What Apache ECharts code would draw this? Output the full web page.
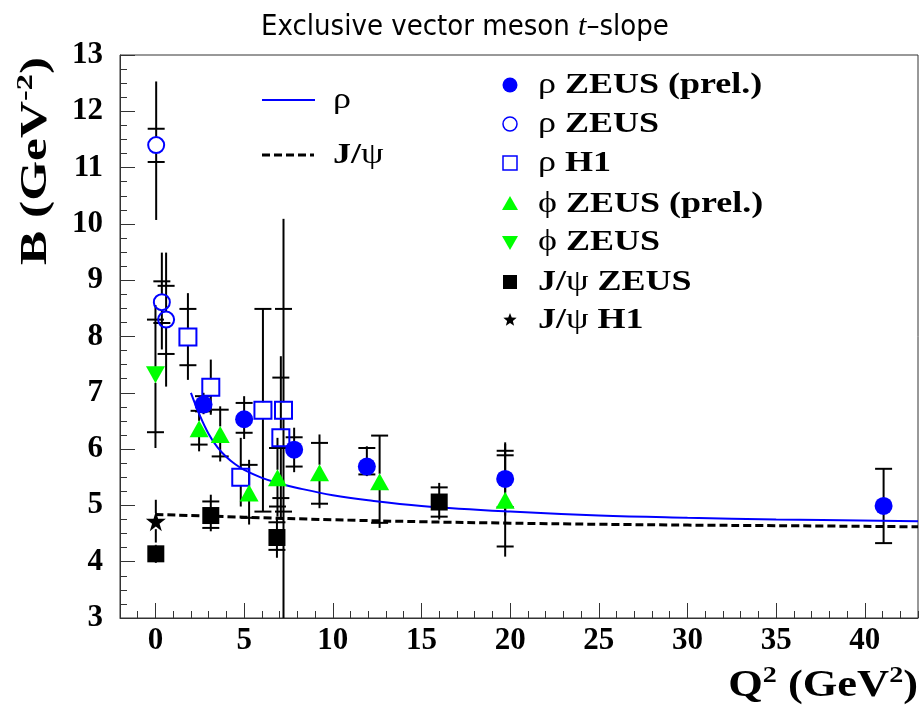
<!DOCTYPE html>
<html>
<head>
<meta charset="utf-8">
<script src="https://cdn.jsdelivr.net/npm/echarts@6/dist/echarts.min.js"></script>
<style>html,body{margin:0;padding:0;background:#fff}#c{width:919px;height:708px}</style>
</head>
<body>
<div id="c"></div>
<script>
// Each row: [Q2, B, totalLow, statLow, statHigh, totalHigh]  (stat == B means no visible stat tick)
const rhoZeusPrel = [
  [2.71, 6.79, 6.62, 6.67, 6.94, 7.00],
  [5.00, 6.53, 6.18, 6.29, 6.82, 6.94],
  [7.82, 5.99, 5.59, 5.69, 6.21, 6.38],
  [11.92, 5.69, 5.52, 5.55, 6.02, 6.05],
  [19.72, 5.47, 4.82, 4.97, 5.97, 6.12],
  [41.06, 4.99, 4.33, 4.33, 5.65, 5.65]
];
const rhoZeus = [
  [0.04, 11.40, 10.07, 11.10, 11.69, 12.53],
  [0.36, 8.61, 7.77, 8.24, 8.98, 9.49],
  [0.60, 8.30, 7.11, 7.69, 8.90, 9.49]
];
const rhoH1 = [
  [1.83, 7.99, 7.23, 7.49, 8.49, 8.77],
  [3.12, 7.10, 6.61, 7.10, 7.10, 7.59],
  [4.81, 5.50, 4.98, 5.50, 5.50, 6.20],
  [6.06, 6.69, 4.89, 4.89, 8.49, 8.49],
  [7.22, 6.69, 2.90, 4.89, 8.49, 10.09],
  [7.07, 6.20, 4.75, 5.13, 7.27, 7.65]
];
const phiZeusPrel = [
  [2.46, 6.36, 5.96, 6.08, 6.68, 6.79],
  [3.65, 6.26, 5.78, 5.87, 6.70, 6.76],
  [5.28, 5.22, 4.66, 4.78, 5.72, 5.81],
  [6.88, 5.49, 4.80, 4.98, 6.02, 6.20],
  [9.25, 5.58, 4.95, 5.03, 6.11, 6.26],
  [12.64, 5.42, 4.60, 4.69, 6.24, 6.24],
  [19.72, 5.09, 4.09, 4.27, 5.89, 6.09]
];
const phiZeus = [
  [0.00, 7.32, 6.02, 6.30, 8.30, 8.56]
];
const jpsiZeus = [
  [0.02, 4.14, 3.98, 4.14, 4.14, 4.30],
  [3.12, 4.82, 4.54, 4.60, 5.07, 5.19],
  [6.85, 4.43, 4.07, 4.21, 4.70, 4.78],
  [16.00, 5.06, 4.75, 4.80, 5.32, 5.40]
];
const jpsiH1 = [
  [0.02, 4.72, 4.34, 4.72, 4.72, 5.10]
];
// fitted curves
const rhoFitQ2 = [2.0, 2.5, 3.0, 3.5, 4.0, 4.5, 5.0, 6.0, 7.0, 8.0, 10, 12, 15, 20, 25, 30, 35, 43];
const rhoFitB  = [7.0, 6.6, 6.27, 6.03, 5.86, 5.73, 5.63, 5.49, 5.39, 5.31, 5.18, 5.09, 4.99, 4.89, 4.82, 4.78, 4.75, 4.72];
const jpsiFitQ2 = [0, 5, 10, 15, 20, 25, 30, 35, 43];
const jpsiFitB  = [4.84, 4.79, 4.745, 4.71, 4.685, 4.665, 4.65, 4.64, 4.62];
// axis ticks
const xMajorTicks = [0, 5, 10, 15, 20, 25, 30, 35, 40];
const yTicks = [3, 4, 5, 6, 7, 8, 9, 10, 11, 12, 13];

const BLUE = '#0000ff', GREEN = '#00ff00', BLACK = '#000000';
const SERIF = "'Liberation Serif','Times New Roman',serif";
const STAR = 'path://M50,0 L61,35 L98,35 L68,57 L79,91 L50,70 L21,91 L32,57 L2,35 L39,35 Z';

function errRender(params, api) {
  const x = api.value(0), y = api.value(1);
  const p = api.coord([x, y]);
  const cs = params.coordSys;
  const top = cs.y, bot = cs.y + cs.height;
  const cl = v => Math.max(top, Math.min(bot, v));
  const lo = cl(api.coord([x, api.value(2)])[1]);
  const hi = cl(api.coord([x, api.value(5)])[1]);
  const gap = 8, half = 8.5;
  const st = {stroke: BLACK, lineWidth: 2};
  const ch = [];
  if (hi < p[1] - gap) ch.push({type: 'line', shape: {x1: p[0], y1: p[1] - gap, x2: p[0], y2: hi}, style: st});
  if (lo > p[1] + gap) ch.push({type: 'line', shape: {x1: p[0], y1: p[1] + gap, x2: p[0], y2: lo}, style: st});
  [3, 4].forEach(i => {
    const v = api.value(i);
    if (Math.abs(v - y) > 1e-6) {
      const py = api.coord([x, v])[1];
      if (py >= top && py <= bot) ch.push({type: 'line', shape: {x1: p[0] - half, y1: py, x2: p[0] + half, y2: py}, style: st});
    }
  });
  return {type: 'group', children: ch};
}
function errSeries(arr) {
  return {type: 'custom', renderItem: errRender, data: arr, encode: {x: 0, y: 1}, z: 2, silent: true};
}
function markSeries(arr, o) {
  return Object.assign({type: 'scatter', data: arr.map(r => [r[0], r[1]]), z: 5, silent: true}, o);
}

// legend graphics
function starPts(cx, cy, R, r) {
  const pts = [];
  for (let k = 0; k < 10; k++) {
    const a = -Math.PI / 2 + k * Math.PI / 5;
    const rr = k % 2 ? r : R;
    pts.push([cx + rr * Math.cos(a), cy + rr * Math.sin(a)]);
  }
  return pts;
}
const LX = 510, TX = 538, SX = 1.2;
const rowsY = [85, 124, 163, 204, 242, 282, 320];
const richL = {
  r: {fontFamily: SERIF, fontSize: 30, color: '#000'},
  b: {fontFamily: SERIF, fontSize: 30, fontWeight: 'bold', color: '#000'}
};
const legendTexts = [
  '{r|ρ }{b|ZEUS (prel.)}',
  '{r|ρ }{b|ZEUS}',
  '{r|ρ }{b|H1}',
  '{r|ϕ }{b|ZEUS (prel.)}',
  '{r|ϕ }{b|ZEUS}',
  '{b|J/}{r|ψ }{b|ZEUS}',
  '{b|J/}{r|ψ }{b|H1}'
];
const g = [];
g.push({type: 'circle', shape: {cx: LX, cy: rowsY[0], r: 7.5}, style: {fill: BLUE}});
g.push({type: 'circle', shape: {cx: LX, cy: rowsY[1], r: 7}, style: {fill: 'none', stroke: BLUE, lineWidth: 1.5}});
g.push({type: 'rect', shape: {x: LX - 7, y: rowsY[2] - 7, width: 14, height: 14}, style: {fill: 'none', stroke: BLUE, lineWidth: 1.5}});
g.push({type: 'polygon', shape: {points: [[LX, rowsY[3] - 8], [LX + 8, rowsY[3] + 6], [LX - 8, rowsY[3] + 6]]}, style: {fill: GREEN}});
g.push({type: 'polygon', shape: {points: [[LX, rowsY[4] + 8], [LX + 8, rowsY[4] - 6], [LX - 8, rowsY[4] - 6]]}, style: {fill: GREEN}});
g.push({type: 'rect', shape: {x: LX - 7, y: rowsY[5] - 7, width: 14, height: 14}, style: {fill: BLACK}});
g.push({type: 'polygon', shape: {points: starPts(LX, rowsY[6], 7, 3)}, style: {fill: BLACK}});
legendTexts.forEach((t, i) => {
  g.push({type: 'text', x: TX, y: rowsY[i], scaleX: SX, style: {text: t, rich: richL, verticalAlign: 'middle', align: 'left'}});
});
// line legend (top left)
g.push({type: 'line', shape: {x1: 262, y1: 100, x2: 315, y2: 100}, style: {stroke: BLUE, lineWidth: 2}});
g.push({type: 'text', x: 333, y: 100, scaleX: SX, style: {text: '{r|ρ}', rich: richL, verticalAlign: 'middle'}});
g.push({type: 'line', shape: {x1: 262, y1: 155, x2: 314, y2: 155}, style: {stroke: BLACK, lineWidth: 3, lineDash: [8, 4]}});
g.push({type: 'text', x: 333, y: 155, scaleX: SX, style: {text: '{b|J/}{r|ψ}', rich: richL, verticalAlign: 'middle'}});
// title
g.push({type: 'text', x: 465, y: 27, style: {
  text: '{n|Exclusive vector meson }{i|t}{n|–slope}', align: 'center', verticalAlign: 'middle',
  rich: {
    n: {fontFamily: "'Liberation Sans Narrow','DejaVu Sans Condensed','Liberation Sans',sans-serif", fontSize: 29, color: '#000'},
    i: {fontFamily: SERIF, fontStyle: 'italic', fontSize: 30, color: '#000'}
  }}});
const richAx = {
  b: {fontFamily: SERIF, fontSize: 38, fontWeight: 'bold', color: '#000', lineHeight: 44},
  s: {fontFamily: SERIF, fontSize: 24, fontWeight: 'bold', color: '#000', lineHeight: 24, verticalAlign: 'top'}
};
g.push({type: 'text', x: 36, y: 57, rotation: Math.PI / 2, scaleX: 1.35, style: {
  text: '{b|B (GeV}{s|-2}{b|)}', align: 'right', verticalAlign: 'middle', rich: richAx}});
g.push({type: 'text', x: 918, y: 686, scaleX: 1.17, style: {
  text: '{b|Q}{s|2}{b| (GeV}{s|2}{b|)}', align: 'right', verticalAlign: 'middle', rich: richAx}});

const axLbl = {fontFamily: SERIF, fontSize: 31, fontWeight: 'bold', color: '#000'};
const option = {
  animation: false,
  backgroundColor: '#ffffff',
  grid: {left: 120, right: 1, top: 55, bottom: 90, show: true, borderColor: '#333', borderWidth: 1, backgroundColor: 'transparent'},
  xAxis: [
    {type: 'value', min: -2, max: 43, interval: 1, position: 'bottom',
     axisLine: {show: true, onZero: false, lineStyle: {color: '#333', width: 1}},
     axisTick: {show: true, inside: true, length: 15, customValues: xMajorTicks, lineStyle: {color: '#333', width: 1}},
     axisLabel: Object.assign({customValues: xMajorTicks, margin: 7}, axLbl),
     splitLine: {show: false}},
    {type: 'value', min: -2, max: 43, interval: 1, position: 'bottom', offset: 0,
     axisLine: {show: false, onZero: false},
     axisTick: {show: true, inside: true, length: 7, lineStyle: {color: '#333', width: 1}},
     axisLabel: {show: false}, splitLine: {show: false}}
  ],
  yAxis: {type: 'value', min: yTicks[0], max: yTicks[yTicks.length - 1], interval: 1, position: 'left',
    axisLine: {show: true, onZero: false, lineStyle: {color: '#333', width: 1}},
    axisTick: {show: true, inside: true, length: 15, lineStyle: {color: '#333'}},
    minorTick: {show: true, splitNumber: 4, length: 7, lineStyle: {color: '#333'}},
    axisLabel: Object.assign({margin: 17}, axLbl),
    splitLine: {show: false}},
  graphic: g,
  series: [
    errSeries(rhoZeusPrel), errSeries(rhoZeus), errSeries(rhoH1), errSeries(phiZeusPrel),
    errSeries(phiZeus), errSeries(jpsiZeus), errSeries(jpsiH1),
    {type: 'line', data: rhoFitQ2.map((q, i) => [q, rhoFitB[i]]), smooth: 0.4, symbol: 'none', z: 3,
     lineStyle: {color: BLUE, width: 2}, silent: true},
    {type: 'line', data: jpsiFitQ2.map((q, i) => [q, jpsiFitB[i]]), smooth: 0.4, symbol: 'none', z: 3,
     lineStyle: {color: BLACK, width: 3, type: [8, 4]}, silent: true},
    markSeries(rhoZeusPrel, {symbol: 'circle', symbolSize: 18, itemStyle: {color: BLUE, opacity: 1}}),
    markSeries(rhoZeus, {symbol: 'circle', symbolSize: 16, itemStyle: {color: 'rgba(0,0,0,0)', borderColor: BLUE, borderWidth: 2, opacity: 1}}),
    markSeries(rhoH1, {symbol: 'rect', symbolSize: 17, itemStyle: {color: 'rgba(0,0,0,0)', borderColor: BLUE, borderWidth: 2, opacity: 1}}),
    markSeries(phiZeusPrel, {symbol: 'triangle', symbolSize: [19, 17], itemStyle: {color: GREEN, opacity: 1}}),
    markSeries(phiZeus, {symbol: 'triangle', symbolRotate: 180, symbolSize: [19, 17], itemStyle: {color: GREEN, opacity: 1}}),
    markSeries(jpsiZeus, {symbol: 'rect', symbolSize: 17, itemStyle: {color: BLACK, opacity: 1}}),
    markSeries(jpsiH1, {symbol: STAR, symbolSize: 20, itemStyle: {color: BLACK, opacity: 1}})
  ]
};
const chart = echarts.init(document.getElementById('c'), null, {renderer: 'canvas'});
chart.setOption(option);
</script>
</body>
</html>
